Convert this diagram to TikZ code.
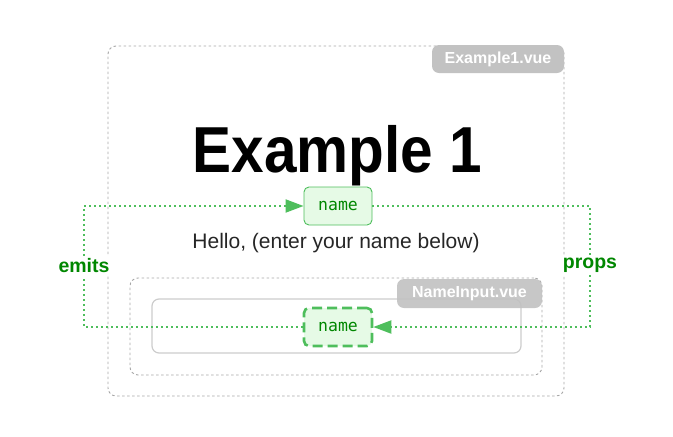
\documentclass[tikz,border=0pt]{standalone}
\usepackage{fontspec}
\setmainfont{Liberation Sans}
\setmonofont{DejaVu Sans Mono}
\newfontfamily\titulo[FakeStretch=0.9]{Liberation Sans}
\usetikzlibrary{arrows.meta}

\begin{document}
\begin{tikzpicture}[x=1pt,y=-1pt]
        %colores
        \definecolor{linea}{RGB}{78,190,92}
        \definecolor{texto}{RGB}{0,135,0}
        \definecolor{relleno}{RGB}{230,250,230}
        \colorlet{gris}{black!35}

        \tikzset{
            caja/.style={draw=gris,line width=0.9pt,dash pattern=on 2.5pt off 2.5pt,rounded corners=8pt,inner sep=0pt},
            etiqueta/.style={fill=black!24,text=white,font=\fontsize{16}{18}\selectfont\bfseries,rounded corners=7pt,inner sep=0pt},
            campo/.style={fill=relleno,text=texto,font=\fontsize{16.5}{18}\ttfamily,rounded corners=5pt,inner sep=0pt},
            flujo/.style={draw=linea,line width=2pt,dash pattern=on 2pt off 3pt},
            punta/.style={-{Triangle[length=18pt,width=13pt]}},
            rotulo/.style={text=texto,font=\fontsize{19.5}{21}\selectfont\bfseries,fill=white,inner sep=3pt}
        }

        \useasboundingbox (0,0) rectangle (673,437);

        % Cajas
        \node[caja,minimum width=456pt,minimum height=350pt] (ex) at (336,221) {};
        \node[etiqueta,minimum width=132pt,minimum height=28pt] (exl) at (498,59) {Example1.vue};
        \node[caja,minimum width=412pt,minimum height=97pt] (ni) at (336,326.5) {};
        \node[draw=black!20,line width=1.2pt,rounded corners=7pt,minimum width=369pt,minimum height=54pt] (input) at (336.5,326) {};
        \node[etiqueta,opacity=0.92,text opacity=1,minimum width=145pt,minimum height=29pt] (nil) at (469.5,293.5) {NameInput.vue};

        % Textos
        \node[anchor=base,font=\titulo\fontsize{65}{70}\selectfont\bfseries] (tit) at (337.5,172) {Example 1};
        \node[anchor=base,text=black!85,font=\fontsize{21}{23}\selectfont] (hola) at (336,248) {Hello, (enter your name below)};

        % Nodos name
        \node[campo,draw=linea,line width=0.9pt,minimum width=68pt,minimum height=38pt] (nt) at (338,206) {name};
        \node[campo,draw=linea,line width=2.6pt,dash pattern=on 10pt off 5pt,minimum width=68pt,minimum height=38pt] (nb) at (338,327) {name};

        % Rotulos
        \node[rotulo] (emits) at (84,266) {emits};
        \node[rotulo] (props) at (590,265) {props};

        % Flechas
        \draw[flujo] (nb.west) -| (emits.south);
        \draw[flujo,punta] (emits.north) |- (nt.west);
        \draw[flujo] (nt.east) -| (props.north);
        \draw[flujo,punta] (props.south) |- (nb.east);
    \end{tikzpicture}
\end{document}
